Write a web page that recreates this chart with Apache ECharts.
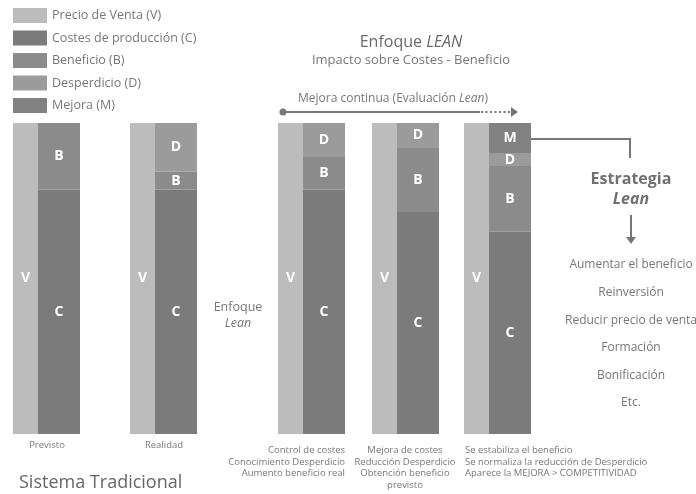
<!DOCTYPE html>
<html>
<head>
<meta charset="utf-8">
<script src="https://cdn.jsdelivr.net/npm/echarts@6/dist/echarts.min.js"></script>
<style>html,body{margin:0;padding:0;background:#fff}#c{width:696px;height:494px}</style>
</head>
<body>
<div id="c"></div>
<script>
// ---- data ----
const categories = [
  'Previsto',
  'Realidad',
  'Control de costes\nConocimiento Desperdicio\nAumento beneficio real',
  'Mejora de costes\nReducción Desperdicio\nObtención beneficio\nprevisto',
  'Se estabiliza el beneficio\nSe normaliza la reducción de Desperdicio\nAparece la MEJORA > COMPETITIVIDAD'
];
const precioVenta = [100, 100, 100, 100, 100];
const costes      = [78.5, 78.5, 78.5, 71.4, 65.0];
const beneficio   = [21.5, 5.8, 10.6, 20.6, 21.2];
const desperdicio = [0, 15.7, 10.9, 8.0, 3.9];
const mejora      = [0, 0, 0, 0, 9.9];
const seriesNames = ['Precio de Venta (V)', 'Costes de producción (C)', 'Beneficio (B)', 'Desperdicio (D)', 'Mejora (M)'];
const letters = ['V', 'C', 'B', 'D', 'M'];
const strategyItems = ['Aumentar el beneficio', 'Reinversión', 'Reducir precio de venta', 'Formación', 'Bonificación', 'Etc.'];

// ---- layout / style ----
const FONT = '"Open Sans", "Noto Sans", sans-serif';
const TXT = '#777';
const colors = ['#bcbcbc', '#7b7b7b', '#8b8b8b', '#9b9b9b', '#818181'];
const gridLeft = [13, 130, 278, 372, 464];
const catLabelPos = [
  {x: 47, y: 440, align: 'center'},
  {x: 164, y: 440, align: 'center'},
  {x: 345, y: 445, align: 'right'},
  {x: 405, y: 445, align: 'center'},
  {x: 465, y: 445, align: 'left'}
];

const grids = [], xAxes = [], yAxes = [], series = [];
const valueSets = [precioVenta, costes, beneficio, desperdicio, mejora];
categories.forEach((cat, i) => {
  grids.push({left: gridLeft[i], width: 67, top: 123, height: 311});
  xAxes.push({type: 'category', gridIndex: i, data: [cat], axisLine: {show: false}, axisTick: {show: false}, axisLabel: {show: false}});
  yAxes.push({type: 'value', gridIndex: i, min: 0, max: 100, show: false, splitLine: {show: false}});
  valueSets.forEach((vals, k) => {
    const s = {
      name: seriesNames[k], type: 'bar', xAxisIndex: i, yAxisIndex: i,
      data: [vals[i]], barGap: '0%', barWidth: k === 0 ? 25 : 42,
      itemStyle: {color: colors[k]},
      label: {show: true, position: 'inside', color: '#fff', fontWeight: 'bold', fontSize: 14, fontFamily: FONT,
        formatter: p => (p.value ? letters[k] : '')},
      emphasis: {disabled: true}
    };
    if (k > 0) s.stack = 'g' + i;
    series.push(s);
  });
});

const graphic = [];
categories.forEach((cat, i) => {
  const p = catLabelPos[i];
  graphic.push({type: 'text', style: {text: cat, x: p.x, y: p.y, align: p.align, verticalAlign: 'top',
    fontSize: 9.5, lineHeight: 11.5, fontFamily: FONT, fill: TXT}});
});
// annotations
graphic.push(
  {type: 'text', style: {text: 'Sistema Tradicional', x: 19, y: 483, verticalAlign: 'middle', fontSize: 18, fontFamily: FONT, fill: '#666'}},
  {type: 'text', style: {text: 'Enfoque', x: 238, y: 307, align: 'center', verticalAlign: 'middle', fontSize: 12.5, fontFamily: FONT, fill: TXT}},
  {type: 'text', style: {text: 'Lean', x: 238, y: 323, align: 'center', verticalAlign: 'middle', fontSize: 12.5, fontStyle: 'italic', fontFamily: FONT, fill: TXT}},
  {type: 'text', style: {text: 'Mejora continua (Evaluación {i|Lean})', x: 393, y: 99, align: 'center', verticalAlign: 'middle', fontSize: 12, fontFamily: FONT, fill: TXT,
    rich: {i: {fontStyle: 'italic', fontSize: 12, fontFamily: FONT, fill: TXT}}}},
  {type: 'circle', shape: {cx: 283, cy: 112, r: 3.5}, style: {fill: '#777'}},
  {type: 'line', shape: {x1: 283, y1: 112, x2: 480, y2: 112}, style: {stroke: '#777', lineWidth: 2}},
  {type: 'line', shape: {x1: 481, y1: 112, x2: 510, y2: 112}, style: {stroke: '#777', lineWidth: 2, lineDash: [2, 2.5]}},
  {type: 'polygon', shape: {points: [[511, 107], [518, 112], [511, 117]]}, style: {fill: '#777'}},
  {type: 'polyline', shape: {points: [[531, 139], [630, 139], [630, 158]]}, style: {stroke: '#777', lineWidth: 2, fill: null}},
  {type: 'text', style: {text: 'Estrategia', x: 631, y: 179, align: 'center', verticalAlign: 'middle', fontSize: 16, fontWeight: 'bold', fontFamily: FONT, fill: '#707070'}},
  {type: 'text', style: {text: 'Lean', x: 631, y: 199, align: 'center', verticalAlign: 'middle', fontSize: 16, fontWeight: 'bold', fontStyle: 'italic', fontFamily: FONT, fill: '#707070'}},
  {type: 'line', shape: {x1: 631, y1: 215, x2: 631, y2: 238}, style: {stroke: '#777', lineWidth: 2}},
  {type: 'polygon', shape: {points: [[626, 237], [636, 237], [631, 244]]}, style: {fill: '#777'}}
);
const itemY = [265, 293, 321, 348, 376, 403];
strategyItems.forEach((t, i) => {
  graphic.push({type: 'text', style: {text: t, x: 631, y: itemY[i], align: 'center', verticalAlign: 'middle', fontSize: 12, fontFamily: FONT, fill: TXT}});
});

const chart = echarts.init(document.getElementById('c'), null, {renderer: 'canvas'});
chart.setOption({
  animation: false,
  backgroundColor: '#fff',
  title: {
    text: 'Enfoque {i|LEAN}', subtext: 'Impacto sobre Costes - Beneficio',
    left: 406, top: 29, textAlign: 'center', itemGap: 4,
    textStyle: {fontSize: 16, fontWeight: 'normal', color: '#6a6a6a', fontFamily: FONT,
      rich: {i: {fontSize: 16, fontStyle: 'italic', color: '#6a6a6a', fontFamily: FONT}}},
    subtextStyle: {fontSize: 13, color: TXT, fontFamily: FONT}
  },
  legend: {
    orient: 'vertical', left: 8, top: 3, itemWidth: 34, itemHeight: 15, itemGap: 7.5,
    icon: 'rect', data: seriesNames, selectedMode: false,
    textStyle: {fontSize: 12.5, color: TXT, fontFamily: FONT}
  },
  grid: grids, xAxis: xAxes, yAxis: yAxes, series: series, graphic: graphic
});
</script>
</body>
</html>
